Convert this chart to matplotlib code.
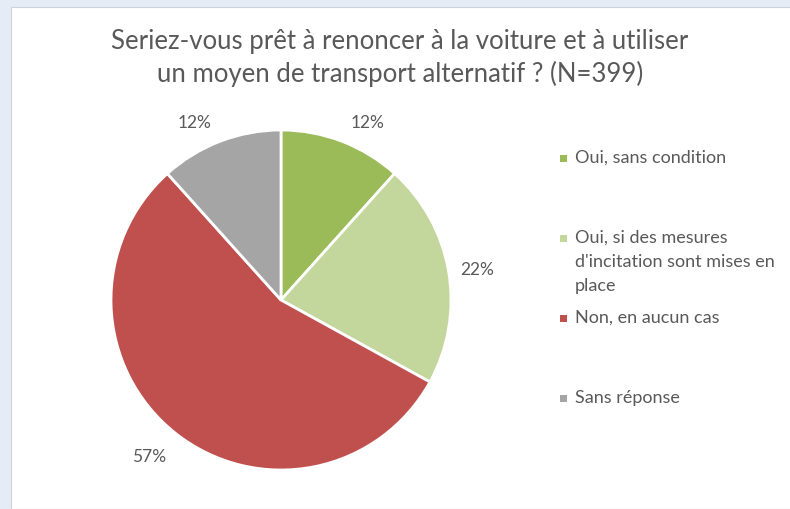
import matplotlib
matplotlib.use('Agg')
import matplotlib.pyplot as plt
import matplotlib.patches as patches

# Données du graphique
categories = ['Oui, sans condition',
              "Oui, si des mesures\nd'incitation sont mises en\nplace",
              'Non, en aucun cas',
              'Sans réponse']
valeurs = [12, 22, 57, 12]
couleurs = ['#9bbb59', '#c3d69b', '#c0504d', '#a5a5a5']
titre = 'Seriez-vous prêt à renoncer à la voiture et à utiliser\nun moyen de transport alternatif ? (N=399)'

gris_texte = '#595959'
plt.rcParams['font.family'] = ['Lato', 'DejaVu Sans']

W, H = 790, 509
fig = plt.figure(figsize=(W / 100, H / 100), dpi=100)
fig.patch.set_facecolor('#e6ecf6')

# Zone blanche du graphique (cadre bleu pâle en haut et à gauche)
fond = patches.Rectangle((11 / W, 0), 1, 1 - 7 / H, transform=fig.transFigure,
                         facecolor='white', edgecolor='#d0d4da', linewidth=0.8, zorder=-10)
fig.patches.append(fond)

# Axes placés pour que le centre soit à (281, 300) px et le rayon à 170 px
cx, cy, r = 281, 300, 170
x0, x1 = 60, 502
y0, y1 = 95, 505
ax = fig.add_axes([x0 / W, (H - y1) / H, (x1 - x0) / W, (y1 - y0) / H])
ax.patch.set_visible(False)
wedges, textes = ax.pie(valeurs, colors=couleurs, startangle=90, counterclock=False,
                        labels=[f'{v}%' for v in valeurs], labeldistance=1.17,
                        wedgeprops=dict(edgecolor='white', linewidth=2),
                        textprops=dict(color=gris_texte, fontsize=12.5))
ax.set_xlim(-(cx - x0) / r, (x1 - cx) / r)
ax.set_ylim(-(y1 - cy) / r, (cy - y0) / r)
ax.set_aspect('auto')
for t in textes:
    t.set_horizontalalignment('center')
    t.set_verticalalignment('center')
# petits décalages des étiquettes, comme dans Excel
decalages = [(0.09, -0.05), (0.0, -0.02), (-0.05, -0.01), (-0.09, -0.05)]
for t, (dx, dy) in zip(textes, decalages):
    px, py = t.get_position()
    t.set_position((px + dx, py + dy))

# Titre
fig.text(400 / W, 1 - 58 / H, titre, ha='center', va='center', fontsize=18.5,
         color=gris_texte, linespacing=1.3)

# Légende
legende_y = [158, 238, 318, 398]
for cat, coul, ly in zip(categories, couleurs, legende_y):
    carre = patches.Rectangle((560 / W, 1 - (ly + 4) / H), 7 / W, 7 / H,
                              transform=fig.transFigure, facecolor=coul, edgecolor='none')
    fig.patches.append(carre)
    fig.text(575 / W, 1 - (ly - 8) / H, cat, ha='left', va='top', fontsize=13,
             color=gris_texte, linespacing=1.6)

fig.savefig('out.png', dpi=100)
